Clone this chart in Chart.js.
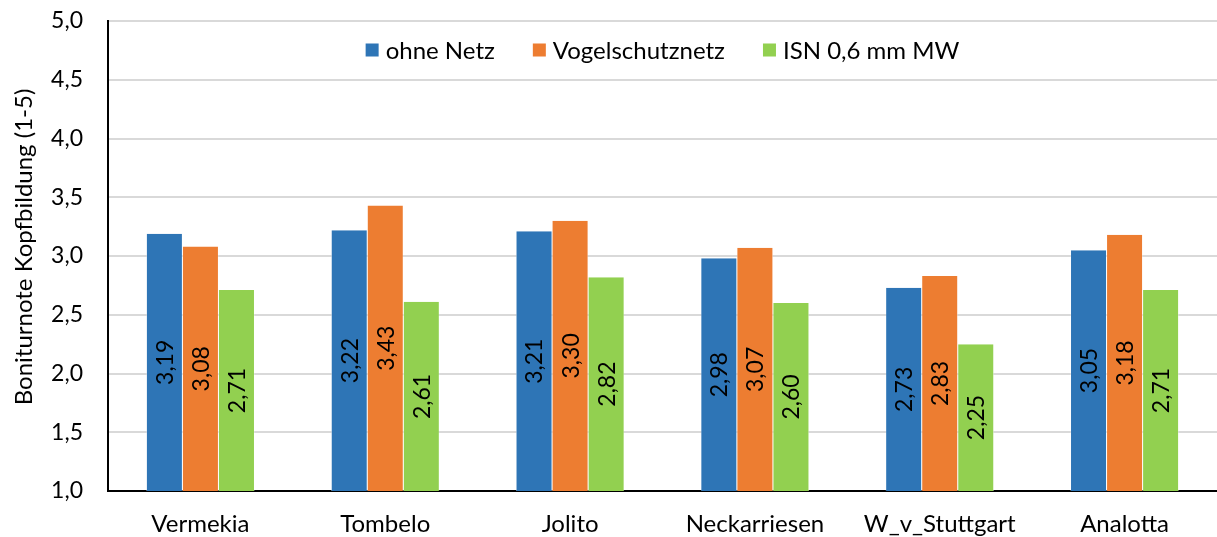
<!DOCTYPE html>
<html>
<head>
<meta charset="utf-8">
<script src="https://cdn.jsdelivr.net/npm/chart.js@4.4.1/dist/chart.umd.min.js"></script>
<style>
html,body{margin:0;padding:0;background:#fff;}
#wrap{width:1217px;height:537px;position:relative;}
</style>
</head>
<body>
<div id="wrap"><canvas id="c" width="1217" height="537"></canvas></div>
<script>
const categories = ["Vermekia", "Tombelo", "Jolito", "Neckarriesen", "W_v_Stuttgart", "Analotta"];
const seriesNames = ["ohne Netz", "Vogelschutznetz", "ISN 0,6 mm MW"];
const ohneNetz = [3.19, 3.22, 3.21, 2.98, 2.73, 3.05];
const vogelschutznetz = [3.08, 3.43, 3.30, 3.07, 2.83, 3.18];
const isn = [2.71, 2.61, 2.82, 2.60, 2.25, 2.71];
const yTicks = [1.0, 1.5, 2.0, 2.5, 3.0, 3.5, 4.0, 4.5, 5.0];
const yTitle = "Boniturnote Kopfbildung (1-5)";
const colors = ["#2E75B6", "#ED7D31", "#92D050"];
const FONT = "Lato";

const fmt = v => v.toFixed(2).replace('.', ',');

const valueLabels = {
  id: 'valueLabels',
  afterDatasetsDraw(chart) {
    const ctx = chart.ctx;
    const bottom = chart.chartArea.bottom;
    ctx.save();
    ctx.font = "23px " + FONT;
    ctx.fillStyle = "#000";
    ctx.textAlign = "center";
    ctx.textBaseline = "middle";
    chart.data.datasets.forEach((ds, i) => {
      const meta = chart.getDatasetMeta(i);
      meta.data.forEach((bar, j) => {
        const p = bar.getProps(['x', 'y', 'base'], true);
        const base = Math.min(p.base, bottom);
        const cy = (p.y + base) / 2;
        ctx.save();
        ctx.translate(p.x, cy);
        ctx.rotate(-Math.PI / 2);
        ctx.fillText(fmt(ds.data[j]), 0, 1);
        ctx.restore();
      });
    });
    ctx.restore();
  }
};

const innerLegend = {
  id: 'innerLegend',
  afterDraw(chart) {
    const ctx = chart.ctx;
    const ca = chart.chartArea;
    const box = 13, gapText = 7, gapItem = 38;
    ctx.save();
    ctx.font = "24px " + FONT;
    ctx.textBaseline = "middle";
    ctx.textAlign = "left";
    const items = chart.data.datasets.map(ds => ({ text: ds.label, color: ds.backgroundColor, w: ctx.measureText(ds.label).width }));
    let total = 0;
    items.forEach((it, k) => { total += box + gapText + it.w + (k < items.length - 1 ? gapItem : 0); });
    let x = (ca.left + ca.right) / 2 - total / 2;
    const cy = 50;
    items.forEach(it => {
      ctx.fillStyle = it.color;
      ctx.fillRect(x, cy - box / 2, box, box);
      x += box + gapText;
      ctx.fillStyle = "#000";
      ctx.fillText(it.text, x, cy + 1);
      x += it.w + gapItem;
    });
    ctx.restore();
  }
};

const axisTitle = {
  id: 'axisTitle',
  afterDraw(chart) {
    const ctx = chart.ctx;
    ctx.save();
    ctx.font = "24px " + FONT;
    ctx.fillStyle = "#000";
    ctx.textAlign = "center";
    ctx.textBaseline = "middle";
    ctx.translate(24, 247);
    ctx.rotate(-Math.PI / 2);
    ctx.fillText(yTitle, 0, 0);
    ctx.restore();
  }
};

const bw = { left: 0.5, right: 0.5, top: 0, bottom: 0 };

new Chart(document.getElementById('c'), {
  type: 'bar',
  data: {
    labels: categories,
    datasets: [
      { label: seriesNames[0], data: ohneNetz, backgroundColor: colors[0], borderColor: '#fff', borderWidth: bw },
      { label: seriesNames[1], data: vogelschutznetz, backgroundColor: colors[1], borderColor: '#fff', borderWidth: bw },
      { label: seriesNames[2], data: isn, backgroundColor: colors[2], borderColor: '#fff', borderWidth: bw }
    ]
  },
  options: {
    responsive: false,
    animation: false,
    devicePixelRatio: 1,
    categoryPercentage: 0.585,
    barPercentage: 1.0,
    layout: { padding: { top: 21, right: 0, left: 0, bottom: 0 } },
    plugins: {
      legend: { display: false },
      tooltip: { enabled: false }
    },
    scales: {
      x: {
        grid: { display: false, drawTicks: false },
        border: { color: '#000', width: 2 },
        ticks: { font: { family: FONT, size: 24 }, color: '#000', padding: 19, maxRotation: 0 },
        afterFit: s => { s.height = 46; s.paddingLeft = 0; s.paddingRight = 0; }
      },
      y: {
        min: 1, max: 5,
        afterBuildTicks: s => { s.ticks = yTicks.map(v => ({ value: v })); },
        grid: { color: '#d9d9d9', lineWidth: 2, drawTicks: false },
        border: { color: '#000', width: 2 },
        ticks: { font: { family: FONT, size: 23 }, color: '#000', padding: 25,
          callback: v => v.toFixed(1).replace('.', ',') },
        afterFit: s => { s.width = 108; s.paddingTop = 0; s.paddingBottom = 0; }
      }
    }
  },
  plugins: [valueLabels, innerLegend, axisTitle]
});
</script>
</body>
</html>
